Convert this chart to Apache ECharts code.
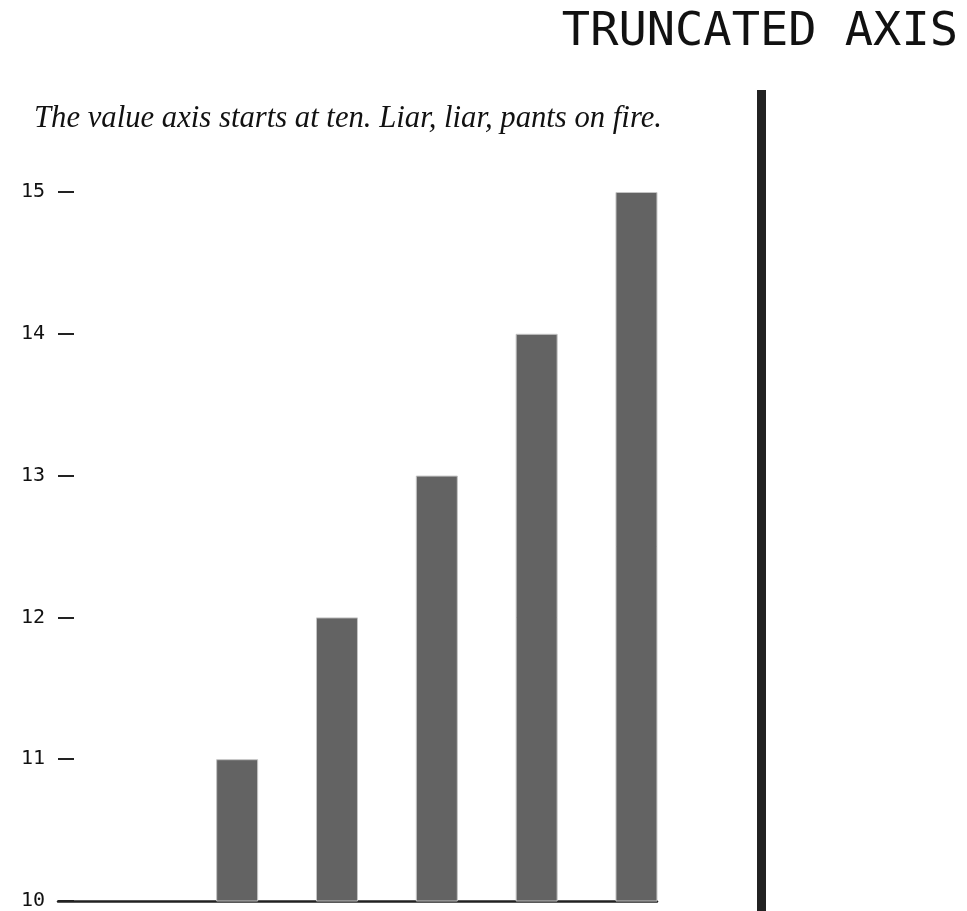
<!DOCTYPE html>
<html><head><meta charset="utf-8">
<script src="https://cdn.jsdelivr.net/npm/echarts@6/dist/echarts.min.js"></script>
<style>html,body{margin:0;padding:0;background:#fff}#c{width:967px;height:911px}</style>
</head><body><div id="c"></div>
<script>
const categories = ['A', 'B', 'C', 'D', 'E', 'F'];
const values = [10, 11, 12, 13, 14, 15];
const yTicks = [10, 11, 12, 13, 14, 15];

const chart = echarts.init(document.getElementById('c'));
chart.setOption({
  animation: false,
  backgroundColor: '#fff',
  title: [
    { text: 'TRUNCATED AXIS', right: 4, top: 4,
      textStyle: { fontFamily: 'DejaVu Sans Mono', fontSize: 47, fontWeight: 'normal', color: '#111' } },
    { text: 'The value axis starts at ten. Liar, liar, pants on fire.', left: 29, top: 98,
      textStyle: { fontFamily: 'Liberation Serif', fontStyle: 'italic', fontSize: 30.7, fontWeight: 'normal', color: '#111' } }
  ],
  graphic: [
    { type: 'rect', shape: { x: 757, y: 90, width: 9, height: 821 }, style: { fill: '#222' } }
  ],
  grid: { left: 58, right: 310, top: 192, bottom: 10, containLabel: false },
  xAxis: {
    type: 'category', data: categories,
    axisLine: { show: true, lineStyle: { color: '#222', width: 2.5 } },
    axisTick: { show: false }, axisLabel: { show: false }, splitLine: { show: false }
  },
  yAxis: {
    type: 'value', min: yTicks[0], max: yTicks[yTicks.length - 1], interval: 1,
    axisLine: { show: false },
    axisTick: { show: true, inside: true, length: 16, lineStyle: { color: '#222', width: 2 } },
    axisLabel: { margin: 13, fontFamily: 'DejaVu Sans Mono', fontSize: 20, color: '#111' },
    splitLine: { show: false }
  },
  series: [
    { type: 'bar', data: values.map(() => '-'), barWidth: 42, barGap: '40%', silent: true },
    { type: 'bar', data: values, barWidth: 42, barGap: '40%',
      itemStyle: { color: '#636363', borderColor: '#c4c4c4', borderWidth: 1 } }
  ]
});
</script></body></html>
